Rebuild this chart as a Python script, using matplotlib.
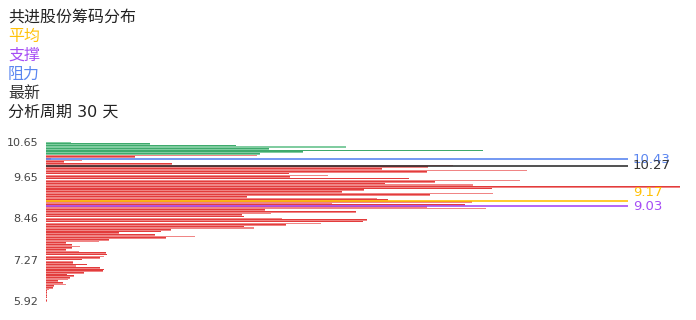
import matplotlib
matplotlib.use("Agg")
import matplotlib.pyplot as plt
import numpy as np

# ---- data ----
title = "共进股份筹码分布"
legend_items = ["平均", "支撑", "阻力", "最新"]
period_text = "分析周期 30 天"

# chip volume per price row, listed from the highest price row (10.65) down to the lowest (5.92)
chip_vol = [
    4.3, 17.8, 32.6, 51.6, 38.3, 75.1, 44.1, 36.7,
    36.2, 15.3, 0.9, 6.2, 3.1, 21.6, 70.0, 65.7, 57.8, 82.7, 65.4, 41.7,
    48.5, 42.0, 62.3, 81.5, 66.9, 58.3, 73.4, 108.9, 76.7, 54.7,
    50.8, 76.8, 66.0, 34.5, 56.9, 58.7, 73.2, 49.2, 72.0, 65.5,
    75.6, 37.6, 53.3, 38.6, 33.6, 34.0, 40.5, 55.2, 54.5, 47.3,
    41.3, 34.0, 35.7, 21.4, 19.7, 12.5, 18.7, 25.6, 20.6, 10.8,
    9.1, 3.4, 4.5, 5.8, 4.5, 3.4, 5.7, 10.3, 10.5, 9.9,
    9.3, 6.2, 4.6, 4.6, 7.0, 5.1, 9.3, 9.9, 9.8, 6.5,
    3.6, 4.8, 4.1, 3.8, 2.1, 2.9, 3.4, 1.4, 1.2, 0.5,
    0.2, 0.12, 0.12, 0.12, 0.12, 0.12, 0.12,
]
n_loss_rows = 8  # top rows above the current cost zone (green)

tick_labels = ["5.92", "7.27", "8.46", "9.65", "10.65"]
tick_rows = [0, 25, 50, 75, 96]  # category rows counted from the bottom

mark_values = ["10.43", "10.27", "9.17", "9.03"]
mark_names = ["阻力", "最新", "平均", "支撑"]
mark_rows = [85.7, 81.85, 60.3, 57.35]  # category position (from bottom) of each mark line

# ---- styles ----
col_title = "#222222"
col_avg = "#FFC107"
col_sup = "#A64DF5"
col_res = "#5B86F0"
col_last = "#333333"
col_profit_light = "#F08585"
col_profit_dark = "#E23C3C"
col_loss_light = "#80CCA0"
col_loss_dark = "#3EAA6C"
mark_colors = [col_res, col_last, col_avg, col_sup]

plt.rcParams["font.family"] = ["DejaVu Sans", "Noto Sans CJK SC"]

W, H = 696, 320
fig = plt.figure(figsize=(W / 100, H / 100), dpi=100)

n = len(chip_vol)
x_max = 100.0
pitch_px = (301 - 142.3) / (n - 1)
bottom_px = 301 + pitch_px / 2
top_px = 142.3 - pitch_px / 2
left_px, right_px = 46, 628
ax = fig.add_axes([left_px / W, (H - bottom_px) / H, (right_px - left_px) / W, (bottom_px - top_px) / H])

rows = np.arange(n)[::-1]  # first entry is the top row
light = [col_loss_light if i < n_loss_rows else col_profit_light for i in range(n)]
dark = [col_loss_dark if i < n_loss_rows else col_profit_dark for i in range(n)]
ax.barh(rows, chip_vol, height=0.95, color=light, edgecolor="none", clip_on=False)
ax.barh(rows + 0.24, chip_vol, height=0.42, color=dark, edgecolor="none", clip_on=False)

ax.set_xlim(0, x_max)
ax.set_ylim(-0.5, n - 0.5)
ax.set_yticks(tick_rows)
ax.set_yticklabels(tick_labels, fontsize=8, color="#444444")
ax.tick_params(axis="y", length=0, pad=5.5)
ax.set_xticks([])
for s in ax.spines.values():
    s.set_visible(False)

label_offsets = [0, 0, 9, 0]  # px, upward
for val, row, c, off in zip(mark_values, mark_rows, mark_colors, label_offsets):
    ax.axhline(row, color=c, lw=1.2, xmin=0, xmax=1)
    ax.annotate(val, xy=(1, row), xycoords=("axes fraction", "data"),
                xytext=(3.6, off * 0.72), textcoords="offset points",
                va="center", ha="left", fontsize=9.5, color=c)

# header text block
lines = [(title, col_title), ("平均", col_avg), ("支撑", col_sup), ("阻力", col_res), ("最新", col_last), (period_text, col_title)]
for j, (t, c) in enumerate(lines):
    fig.text(8 / W, 1 - (17.5 + 19 * j) / H, t, fontsize=11.5, color=c, va="center", ha="left")

fig.savefig("out.png", dpi=100)
